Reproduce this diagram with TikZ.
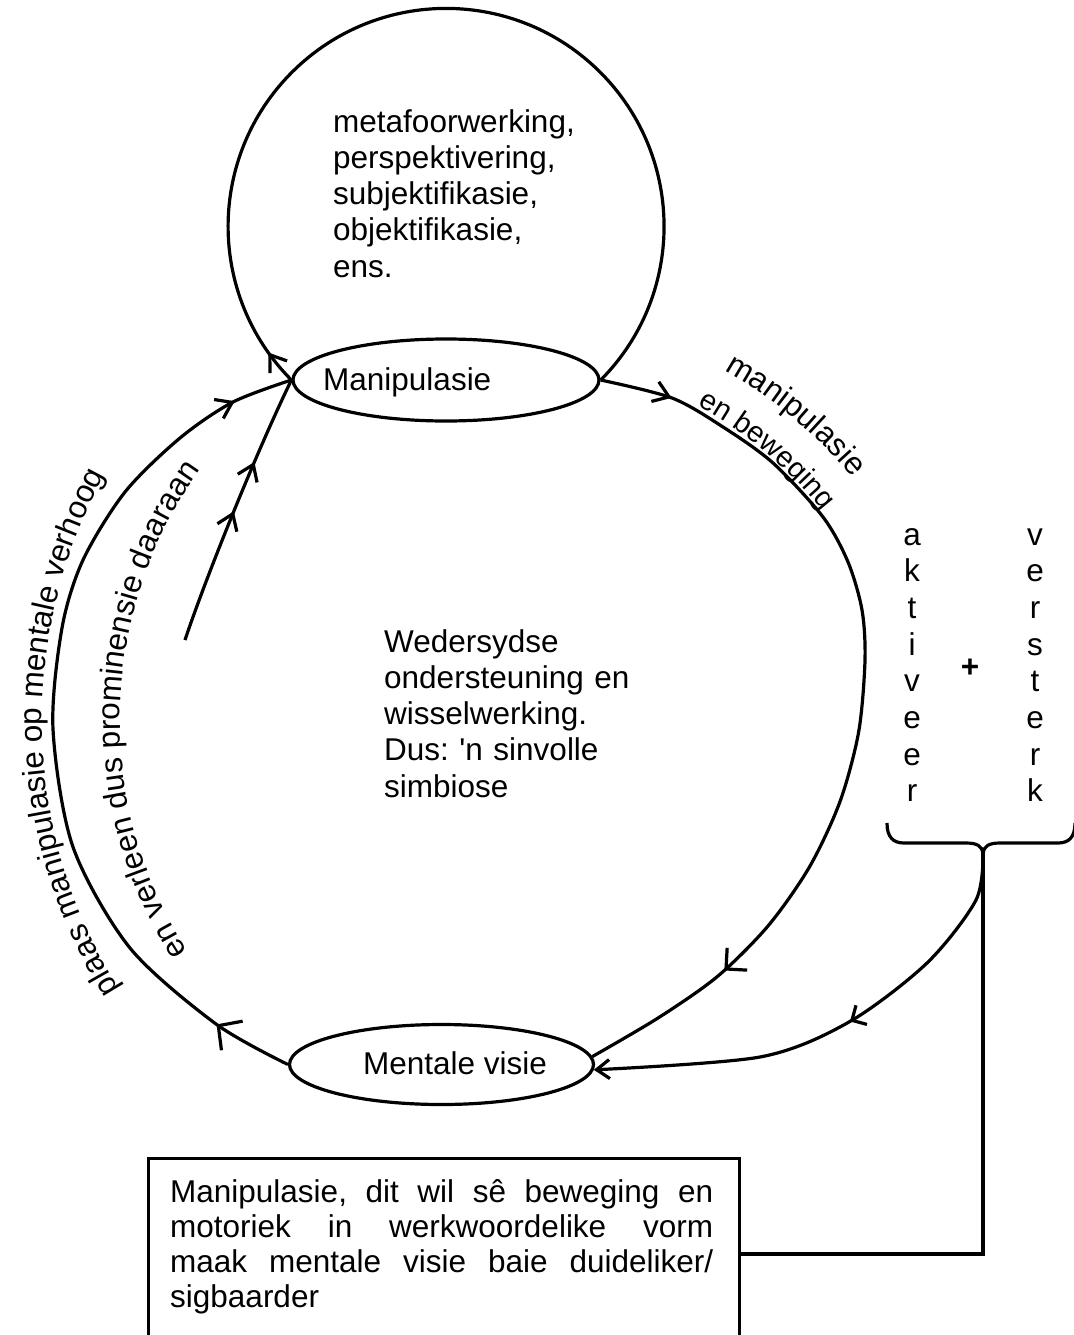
\documentclass[tikz,border=0pt]{standalone}
\usepackage{fontspec}
\setmainfont{Liberation Sans}
\usetikzlibrary{shapes.geometric,arrows.meta,decorations.markings,decorations.text,calc}
\AtBeginDocument{\fontsize{31.5pt}{36.25pt}\selectfont\frenchspacing
  \hyphenpenalty=10000 \hbadness=10000 \hfuzz=5pt }
\tikzset{
  ln/.style={line width=3.2pt},
  chev/.tip={Straight Barb[length=15pt,width=21pt]},
  chevE/.tip={Straight Barb[length=13pt,width=19pt]},
  ellL/.tip={Straight Barb[length=17pt,width=36pt]},
  ellM/.tip={Straight Barb[length=15pt,width=30pt]},
  ellS/.tip={Straight Barb[length=11pt,width=22pt]},
  oval/.style={ellipse, draw, ln, inner sep=0pt},
  lbl/.style={inner sep=0pt, anchor=base west},
  para/.style={inner sep=0pt, anchor=base west, align=left},
  column/.style={inner sep=0pt, anchor=base, text width=40pt, align=center,
    font=\fontsize{31.5pt}{36.7pt}\selectfont},
}
\begin{document}
\begin{tikzpicture}[x=1pt,y=1pt]
\useasboundingbox (0,0) rectangle (1073,-1335);

% ellipses
\node[oval, minimum width=306pt, minimum height=82pt] (manip) at (446,-380) {};
\node[lbl] (maniplbl) at (323,-390) {Manipulasie};
\node[oval, minimum width=304pt, minimum height=80pt] (ment) at (441.5,-1064.5) {};
\node[lbl] (mentlbl) at (363,-1074) {Mentale visie};

% top circle
\draw[ln, decoration={markings, mark=at position 36pt with {\arrow{chev}}}, postaction=decorate]
  (manip.west) arc[start angle=224.8, end angle=-44.8, radius=218];
\node[para, text width=320pt] (toptext) at (333,-132)
  {metafoorwerking,\\perspektivering,\\subjektifikasie,\\objektifikasie,\\ens.};

% centre text
\node[para, text width=300pt] (centre) at (384,-652)
  {Wedersydse\\ondersteuning en\\wisselwerking.\\Dus: \textquotesingle n sinvolle\\simbiose};

% left big arc
\draw[ln, decoration={markings, mark=at position 0.092 with {\arrow{ellL}},
    mark=at position 0.932 with {\arrow{chev}}}, postaction=decorate]
  plot[smooth] coordinates {(ment.west) (216,-1024) (130,-948) (73,-847) (53,-729)
    (62,-628) (83,-560) (125,-492) (180,-438) (233,-402) (manip.west)};

% right big arc
\draw[ln, decoration={markings, mark=at position 0.079 with {\arrow{chev}},
    mark=at position 0.83 with {\arrow{ellM}}}, postaction=decorate]
  plot[smooth] coordinates {(manip.east) (672,-398) (723,-427) (773,-463) (823,-517)
    (848,-562) (862,-610) (865,-660) (858.7,-731.7) (840.1,-801.3) (809.7,-866.5)
    (768.4,-925.5) (717.5,-976.4) (658.5,-1017.7) (ment.3)};

% inner line with two arrows
\coordinate (linestart) at (185,-640);
\draw[ln, decoration={markings, mark=at position 0.49 with {\arrow{chev}},
    mark=at position 0.68 with {\arrow{chev}}}, postaction=decorate]
  (linestart) .. controls (205,-580) and (255,-455) .. (manip.west);

% curved texts
\path[shift={(506,-763)}, decorate, decoration={text along path, text align=center,
    text={manipulasie}}]
  (65.2:449) arc[start angle=65.2, end angle=35.2, radius=449];
\path[shift={(506,-763)}, decorate, decoration={text along path, text align=center,
    text={|\fontsize{29pt}{32pt}\selectfont|en beweging}}]
  (65.2:405) arc[start angle=65.2, end angle=35.2, radius=405];
\path[shift={(550,-720)}, decorate, decoration={text along path, text align=left,
    text={plaas manipulasie op mentale verhoog}}]
  (212:508) arc[start angle=212, end angle=140, radius=508];
\path[shift={(550,-720)}, decorate, decoration={text along path, text align=left,
    text={en verleen dus prominensie daaraan}}]
  (212.5:430) arc[start angle=212.5, end angle=135, radius=430];

% columns and plus
\node[column] (aktiveer) at (912,-545) {a\\k\\t\\i\\v\\e\\e\\r};
\node[column] (versterk) at (1035,-545) {v\\e\\r\\s\\t\\e\\r\\k};
\node[inner sep=0pt, font=\bfseries] (plus) at (970,-668) {+};

% brace
\draw[ln] (887,-823) .. controls (887,-837) and (893,-843) .. (904,-843) -- (966,-843)
  .. controls (977,-843) and (982,-846) .. (983,-853)
  .. controls (984,-846) and (989,-843) .. (1000,-843) -- (1058,-843)
  .. controls (1069,-843) and (1075,-837) .. (1075,-823);
\coordinate (bracetip) at (983,-853);

% curve from brace to Mentale visie
\draw[ln, -chevE, decoration={markings, mark=at position 0.46 with {\arrow{ellS}}}, postaction=decorate]
  plot[smooth] coordinates {(bracetip) (976,-900) (927,-963) (849,-1022)
    (760,-1057) (ment.358)};

% note box
\node[draw, ln, anchor=north west, minimum width=591pt, minimum height=260pt, inner sep=0pt]
  (note) at (147,-1157) {};
\node[para, text width=543pt, align=justify,
  font=\fontsize{31.5pt}{35pt}\selectfont]
  (notetext) at (170,-1202)
  {Manipulasie, dit wil sê beweging en\linebreak motoriek in werkwoordelike vorm\linebreak
   maak mentale visie baie duideliker/\linebreak sigbaarder};
\coordinate (noteport) at (note.east |- 0,-1254);
\draw[ln] (bracetip) |- (noteport);
\end{tikzpicture}
\end{document}
